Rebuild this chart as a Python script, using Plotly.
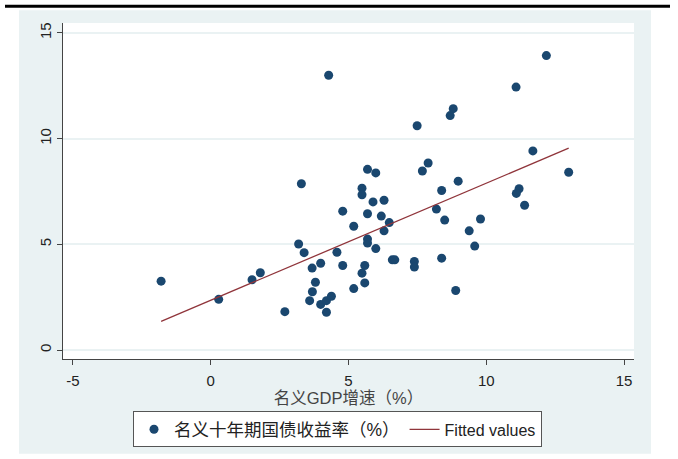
import plotly.graph_objects as go

# Scatter data: nominal GDP growth (%) vs nominal 10-year government bond yield (%)
gdp_growth = [4.28, 5.69, 5.99, 3.29, 5.49, 5.49, 5.89, 6.29, 4.79, 5.69, 6.19, 6.48,
              6.29, 5.19, 5.69, 5.69, 5.99, 3.19, 3.39, 4.58, 3.99, 3.68, 4.79, 5.59,
              5.49, 5.59, 5.19, 1.80, 1.50, -1.80, 0.29, 3.80, 3.69, 3.59, 3.99, 4.20,
              4.38, 4.20, 2.69, 12.18, 11.08, 8.80, 8.69, 7.49, 7.89, 7.68, 11.69, 12.99,
              8.98, 8.38, 11.19, 11.09, 11.39, 8.19, 8.49, 9.79, 9.38, 9.58, 6.59, 6.68,
              7.39, 7.39, 8.38, 8.89]
bond_yield = [13.0, 8.55, 8.38, 7.87, 7.66, 7.35, 7.01, 7.09, 6.57, 6.45, 6.34, 6.03,
              5.64, 5.86, 5.25, 5.06, 4.80, 5.02, 4.61, 4.63, 4.11, 3.88, 4.00, 4.00,
              3.64, 3.18, 2.91, 3.66, 3.33, 3.26, 2.40, 3.21, 2.76, 2.34, 2.16, 2.34,
              2.55, 1.79, 1.82, 13.93, 12.44, 11.42, 11.09, 10.61, 8.85, 8.47, 9.42, 8.41,
              7.99, 7.55, 7.63, 7.41, 6.85, 6.67, 6.15, 6.20, 5.64, 4.92, 4.27, 4.27,
              4.19, 3.93, 4.35, 2.82]

# Fitted line (endpoints)
fit_x = [-1.80, 12.99]
fit_y = [1.36, 9.55]

x_ticks = [-5, 0, 5, 10, 15]
y_ticks = [0, 5, 10, 15]

scatter_name = "名义十年期国债收益率（%）"
fit_name = "Fitted values"
x_title = "名义GDP增速（%）"

NAVY = "#1a476f"
MAROON = "#90353b"
BG = "#eaf2f3"
FONT = "Liberation Sans, Arial, Noto Sans CJK SC, sans-serif"

fig = go.Figure()
fig.add_trace(go.Scatter(x=gdp_growth, y=bond_yield, mode="markers",
                         name="<span style='font-size:17.5px'>" + scatter_name + "</span>",
                         marker=dict(color=NAVY, size=9, line=dict(width=0))))
fig.add_trace(go.Scatter(x=fit_x, y=fit_y, mode="lines", name=fit_name,
                         line=dict(color=MAROON, width=1.3)))

L, R, T, B = 63, 634, 23, 363
W, H = 678, 459
pw, ph = R - L, B - T

def px(x):
    return (x - L) / pw

def py(y):
    return (B - y) / ph

fig.update_layout(
    width=W, height=H,
    margin=dict(l=L, r=W - R, t=T, b=H - B, pad=0),
    paper_bgcolor="white",
    plot_bgcolor="white",
    font=dict(family=FONT, size=14, color="#222"),
    showlegend=True,
    legend=dict(orientation="h", x=px(133), y=py(416), xanchor="left", yanchor="top",
                bgcolor="white", bordercolor="#555", borderwidth=1,
                font=dict(size=16, color="#222"), itemwidth=30,
                traceorder="normal", tracegroupgap=0),
    shapes=[
        dict(type="rect", xref="paper", yref="paper", x0=px(19), x1=px(651),
             y0=py(459), y1=py(10), fillcolor=BG, line=dict(width=0), layer="below"),
        dict(type="rect", xref="paper", yref="paper", x0=0, x1=1, y0=0, y1=1,
             fillcolor="white", line=dict(width=0), layer="below"),
        dict(type="line", xref="paper", yref="paper", x0=px(5), x1=px(670),
             y0=py(6), y1=py(6), line=dict(color="black", width=3)),
    ],
)

fig.update_xaxes(
    range=[-5.36, 15.36], tickvals=x_ticks, ticktext=[str(v) for v in x_ticks],
    showgrid=False, zeroline=False, showline=True, linecolor="#444", linewidth=1,
    ticks="outside", ticklen=5, tickcolor="#444", tickfont=dict(size=15, color="#222"),
    ticklabelstandoff=3,
    title=dict(text=x_title, font=dict(size=16.5, color="#444"), standoff=4),
)
fig.update_yaxes(
    range=[-0.42, 15.47], tickvals=y_ticks, ticktext=[str(v) for v in y_ticks],
    showgrid=True, gridcolor=BG, gridwidth=1.5, zeroline=False,
    showline=True, linecolor="#444", linewidth=1,
    ticks="outside", ticklen=5, tickcolor="#444", tickangle=-90,
    tickfont=dict(size=15, color="#222"),
)

fig.write_html("out.html", config={"displayModeBar": False},
               post_script="document.body.style.margin='0';")
